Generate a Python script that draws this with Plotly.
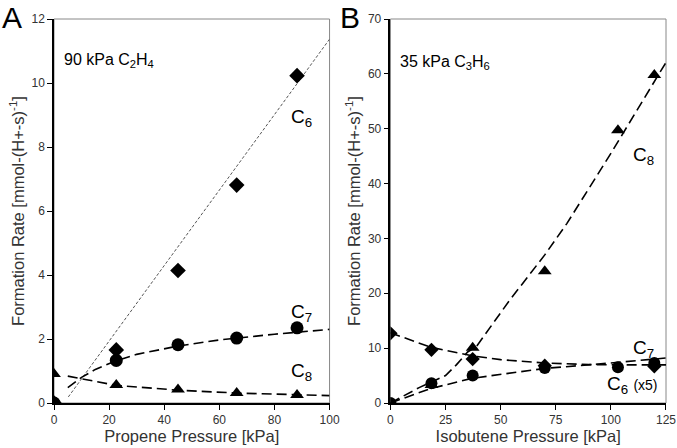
import plotly.graph_objects as go
from plotly.subplots import make_subplots

# ---------- Panel A data (propene pressure, 90 kPa C2H4) ----------
a_x = [0, 22.6, 45.0, 66.3, 88.2]
a_c6 = [0.0, 1.66, 4.14, 6.81, 10.23]
a_c7 = [0.0, 1.33, 1.82, 2.03, 2.35]
a_c8 = [0.91, 0.56, 0.42, 0.31, 0.25]

a_c6_fit_x = [5.2, 100]
a_c6_fit_y = [0.19, 11.37]
a_c7_fit_x = [5, 10, 15, 22.6, 30, 45, 60, 80, 100]
a_c7_fit_y = [0.48, 0.80, 1.05, 1.32, 1.52, 1.78, 1.97, 2.15, 2.30]
a_c8_fit_x = [5, 22.6, 45, 66.5, 88, 100]
a_c8_fit_y = [0.84, 0.55, 0.40, 0.31, 0.26, 0.23]

# ---------- Panel B data (isobutene pressure, 35 kPa C3H6) ----------
b_x = [0, 18.6, 37.3, 70.0, 103.2, 119.7]
b_c8 = [0.0, 3.3, 10.05, 24.0, 49.7, 59.8]
b_c7 = [12.7, 9.7, 8.0, 6.8, None, 6.7]
b_c6 = [0.0, 3.6, 5.0, 6.4, 6.5, 7.3]

b_c8_fit_x = [0, 13, 25, 30, 35, 39, 54, 70, 80, 100, 125]
b_c8_fit_y = [0.0, 2.8, 5.0, 7.0, 9.3, 10.3, 18.7, 27.0, 32.7, 45.5, 62.1]
b_c7_fit_x = [0, 18, 37, 50, 70, 90, 110, 125]
b_c7_fit_y = [12.8, 10.2, 8.6, 7.9, 7.3, 7.0, 6.95, 6.95]
b_c6_fit_x = [0, 18, 37, 70, 100, 125]
b_c6_fit_y = [0.0, 2.6, 4.5, 6.3, 7.3, 8.2]

FONT = "Liberation Sans, Arial, sans-serif"
DASH = "10px,5px"

fig = make_subplots(rows=1, cols=2, horizontal_spacing=0.0995)

def line(x, y, col, dash, width, color="black"):
    fig.add_trace(go.Scatter(x=x, y=y, mode="lines", showlegend=False,
                             line=dict(color=color, width=width, dash=dash)),
                  row=1, col=col)

def pts(x, y, col, symbol, size):
    fig.add_trace(go.Scatter(x=x, y=y, mode="markers", showlegend=False,
                             marker=dict(symbol=symbol, size=size, color="black")),
                  row=1, col=col)

# Panel A
line(a_c6_fit_x, a_c6_fit_y, 1, "3px,2px", 1, color="#555555")
line(a_c7_fit_x, a_c7_fit_y, 1, DASH, 1.6)
line(a_c8_fit_x, a_c8_fit_y, 1, DASH, 1.6)
pts(a_x, a_c6, 1, "diamond", 12)
pts(a_x, a_c8, 1, "triangle-up", 12)
pts(a_x, a_c7, 1, "circle", 13)

# Panel B
line(b_c8_fit_x, b_c8_fit_y, 2, DASH, 1.6)
line(b_c7_fit_x, b_c7_fit_y, 2, DASH, 1.6)
line(b_c6_fit_x, b_c6_fit_y, 2, DASH, 1.6)
pts(b_x, b_c8, 2, "triangle-up", 12)
pts(b_x, b_c6, 2, "circle", 12)
pts(b_x, b_c7, 2, "diamond", 11)

axis_common = dict(showline=True, linecolor="black", linewidth=1.5,
                   ticks="outside", ticklen=5, tickcolor="black", tickwidth=1,
                   showgrid=False, zeroline=False, automargin=False,
                   tickfont=dict(family=FONT, size=12, color="#333333"),
                   title_font=dict(family=FONT, size=16.5, color="#333333"))

ytitle = "Formation Rate [mmol-(H+-s)<sup>-1</sup>]"
fig.update_xaxes(range=[0, 100], tickvals=[0, 20, 40, 60, 80, 100],
                 title_text="Propene Pressure [kPa]", title_standoff=4,
                 row=1, col=1, **axis_common)
fig.update_xaxes(range=[0, 125], tickvals=[0, 25, 50, 75, 100, 125],
                 title_text="Isobutene Pressure [kPa]", title_standoff=4,
                 row=1, col=2, **axis_common)
fig.update_yaxes(range=[0, 12], tickvals=[0, 2, 4, 6, 8, 10, 12],
                 title_text=ytitle, title_standoff=3, row=1, col=1, **axis_common)
fig.update_yaxes(range=[0, 70], tickvals=[0, 10, 20, 30, 40, 50, 60, 70],
                 title_text=ytitle, title_standoff=3, row=1, col=2, **axis_common)

# gray box around each plot
for xr, yr in (("x domain", "y domain"), ("x2 domain", "y2 domain")):
    fig.add_shape(type="rect", xref=xr, yref=yr, x0=0, x1=1, y0=0, y1=1,
                  line=dict(color="#888888", width=1), layer="below")

def ann(text, x, y, xref, yref, size, xanchor="center"):
    fig.add_annotation(text=text, x=x, y=y, xref=xref, yref=yref, showarrow=False,
                       xanchor=xanchor, yanchor="middle",
                       font=dict(family=FONT, size=size, color="black"))

ann("90 kPa C<sub>2</sub>H<sub>4</sub>", 3.0, 10.7, "x", "y", 16, "left")
ann("C<sub>6</sub>", 89.7, 8.9, "x", "y", 19)
ann("C<sub>7</sub>", 89.7, 2.8, "x", "y", 19)
ann("C<sub>8</sub>", 89.7, 0.98, "x", "y", 19)

ann("35 kPa C<sub>3</sub>H<sub>6</sub>", 3.6, 62.1, "x2", "y2", 16, "left")
ann("C<sub>8</sub>", 114.9, 45.0, "x2", "y2", 19)
ann("C<sub>7</sub>", 114.9, 9.8, "x2", "y2", 19)
ann("C<sub>6</sub> <span style='font-size:14px'>(x5)</span>", 97.5, 3.3, "x2", "y2", 19, "left")

# panel letters
fig.add_annotation(text="A", x=-0.086, y=1.0495, xref="paper", yref="paper",
                   showarrow=False, xanchor="left", yanchor="top", borderpad=0,
                   font=dict(family=FONT, size=30, color="black"))
fig.add_annotation(text="B", x=0.466, y=1.0495, xref="paper", yref="paper",
                   showarrow=False, xanchor="left", yanchor="top", borderpad=0,
                   font=dict(family=FONT, size=30, color="black"))

fig.update_layout(width=677, height=448,
                  margin=dict(l=54, r=11, t=19, b=45),
                  paper_bgcolor="white", plot_bgcolor="white",
                  font=dict(family=FONT))

fig.write_html("out.html", config={"displayModeBar": False},
               post_script="document.body.style.margin='0px';"
                           "document.body.style.overflow='hidden';")
